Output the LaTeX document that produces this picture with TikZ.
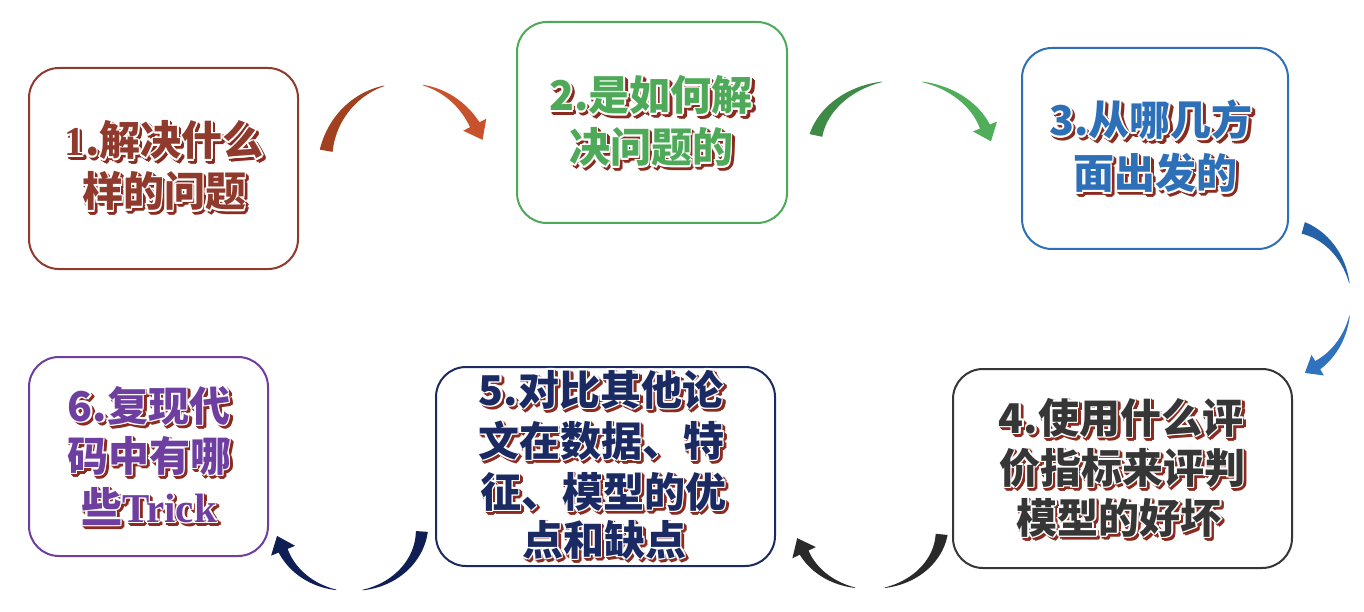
\documentclass[tikz,border=0pt]{standalone}
\usepackage{fontspec}
\newfontfamily\cjk{Noto Sans CJK SC}
\newfontfamily\lsb{Liberation Serif}
\usetikzlibrary{calc}
\definecolor{c1}{HTML}{8F3A2C}
\definecolor{c2}{HTML}{4EAA58}
\definecolor{c3}{HTML}{2E70B8}
\definecolor{c4}{HTML}{363636}
\definecolor{c5}{HTML}{1B2A62}
\definecolor{c6}{HTML}{6E3FA0}
\definecolor{shred}{HTML}{8B2A1E}
\definecolor{a1L}{HTML}{A2411F}
\definecolor{a1R}{HTML}{C8522B}
\definecolor{a2L}{HTML}{3D8B47}
\definecolor{a2R}{HTML}{50AE5A}
\definecolor{a3L}{HTML}{2561A7}
\definecolor{a3R}{HTML}{2F73BF}
\definecolor{a4}{HTML}{2A2A2A}
\definecolor{a5}{HTML}{0F1F55}
% tapered arc band: cx cy rx ry t_start t_end w_start w_end color
\newcommand\crescent[9]{%
  \fill[#9] plot[domain=#5:#6, samples=40, variable=\t]
    ({#1+(#3+0.5*((#7)+((#8)-(#7))*(\t-(#5))/((#6)-(#5))))*cos(\t)},
     {#2-(#4+0.5*((#7)+((#8)-(#7))*(\t-(#5))/((#6)-(#5))))*sin(\t)})
   -- plot[domain=#6:#5, samples=40, variable=\t]
    ({#1+(#3-0.5*((#7)+((#8)-(#7))*(\t-(#5))/((#6)-(#5))))*cos(\t)},
     {#2-(#4-0.5*((#7)+((#8)-(#7))*(\t-(#5))/((#6)-(#5))))*sin(\t)})
   -- cycle;}
% arrow head: cx cy rx ry t_end length halfwidth color
\newcommand\ahead[8]{%
  \pgfmathsetmacro\ahBx{#1+#3*cos(#5)}%
  \pgfmathsetmacro\ahBy{#2-#4*sin(#5)}%
  \pgfmathsetmacro\ahDx{#3*sin(#5)}%
  \pgfmathsetmacro\ahDy{#4*cos(#5)}%
  \pgfmathsetmacro\ahDn{sqrt(\ahDx*\ahDx+\ahDy*\ahDy)}%
  \pgfmathsetmacro\ahUx{\ahDx/\ahDn}%
  \pgfmathsetmacro\ahUy{\ahDy/\ahDn}%
  \fill[#8] ({\ahBx+#6*\ahUx},{\ahBy+#6*\ahUy})
    -- ({\ahBx+#7*\ahUy-2*\ahUx},{\ahBy-#7*\ahUx-2*\ahUy})
    -- ({\ahBx-#7*\ahUy-2*\ahUx},{\ahBy+#7*\ahUx-2*\ahUy}) -- cycle;}
% outlined text with shadow: name, x, y(visual centre), colour, text
\newcommand\fancy[5]{%
  \foreach \ox/\oy in {1.8/0,-1.8/0,0/1.8,0/-1.8,1.3/1.3,1.3/-1.3,-1.3/1.3,-1.3/-1.3}
    \node[txt,text=shred] at ({#2+2.6+\ox},{#3+15+2.6+\oy}) {#5};
  \foreach \ox/\oy in {1.8/0,-1.8/0,0/1.8,0/-1.8,1.3/1.3,1.3/-1.3,-1.3/1.3,-1.3/-1.3}
    \node[txt,text=white] at ({#2+\ox},{#3+15+\oy}) {#5};
  \node[txt,text=#4] (#1) at (#2,#3+15) {#5};}
\begin{document}
\begin{tikzpicture}[x=1pt,y=-1pt,
  box/.style={draw, line width=2pt, rounded corners=30pt, fill=white, inner sep=0pt},
  txt/.style={font=\cjk\bfseries\fontsize{41}{48}\selectfont, inner sep=0pt, anchor=base}]
\fill[white] (0,0) rectangle (1364,612);
\useasboundingbox (0,0) rectangle (1364,612);
% boxes
\node[box, draw=c1, minimum width=269pt, minimum height=201pt] (b1) at (163.5,168.5) {};
\node[box, draw=c2, minimum width=270pt, minimum height=201pt] (b2) at (652,122.5) {};
\node[box, draw=c3, minimum width=266pt, minimum height=201pt] (b3) at (1155,148.5) {};
\node[box, draw=c4, minimum width=339pt, minimum height=199pt] (b4) at (1122.5,468.5) {};
\node[box, draw=c5, minimum width=339pt, minimum height=199pt] (b5) at (605.5,466.5) {};
\node[box, draw=c6, minimum width=239pt, minimum height=199pt] (b6) at (148.5,456.5) {};
% texts
\fancy{t1a}{164}{141}{c1}{{\lsb 1}.解决什么}
\fancy{t1b}{164}{192}{c1}{样的问题}
\fancy{t2a}{651}{96}{c2}{2.是如何解}
\fancy{t2b}{651}{148}{c2}{决问题的}
\fancy{t3a}{1151}{121}{c3}{3.从哪几方}
\fancy{t3b}{1155}{174}{c3}{面出发的}
\fancy{t4a}{1121}{418}{c4}{4.使用什么评}
\fancy{t4b}{1122}{468}{c4}{价指标来评判}
\fancy{t4c}{1119}{518}{c4}{模型的好坏}
\fancy{t5a}{601}{390}{c5}{5.对比其他论}
\fancy{t5b}{601}{441}{c5}{文在数据、特}
\fancy{t5c}{603}{492}{c5}{征、模型的优}
\fancy{t5d}{604}{540}{c5}{点和缺点}
\fancy{t6a}{149}{406}{c6}{6.复现代}
\fancy{t6b}{149}{456}{c6}{码中有哪}
\fancy{t6c}{149}{507}{c6}{些{\lsb Trick}}
% arrow 1 -> 2
\crescent{405}{165}{80}{82}{170}{105}{13}{0.5}{a1L}
\crescent{405}{165}{80}{82}{77}{28}{0.5}{11}{a1R}
\ahead{405}{165}{80}{82}{28}{15}{13}{a1R}
% arrow 2 -> 3
\crescent{902}{150}{88}{70}{168}{103}{13}{0.5}{a2L}
\crescent{902}{150}{88}{70}{77}{18}{0.5}{11}{a2R}
\ahead{902}{150}{88}{70}{18}{14}{13}{a2R}
% arrow 3 -> 4
\crescent{1285}{300}{66}{75}{74}{13}{12}{0.5}{a3L}
\crescent{1285}{300}{66}{75}{-12}{-62}{0.5}{10}{a3R}
\ahead{1285}{300}{66}{75}{-62}{13}{12}{a3R}
% arrow 4 -> 5
\crescent{870}{528}{72}{61}{-6}{-78}{12}{0.5}{a4}
\crescent{870}{528}{72}{61}{-102}{-158}{0.5}{10}{a4}
\ahead{870}{528}{72}{61}{-158}{14}{13}{a4}
% arrow 5 -> 6
\crescent{350}{527}{72}{64}{-4}{-80}{12}{0.5}{a5}
\crescent{350}{527}{72}{64}{-101}{-160}{0.5}{10}{a5}
\ahead{350}{527}{72}{64}{-160}{14}{13}{a5}
\end{tikzpicture}
\end{document}
